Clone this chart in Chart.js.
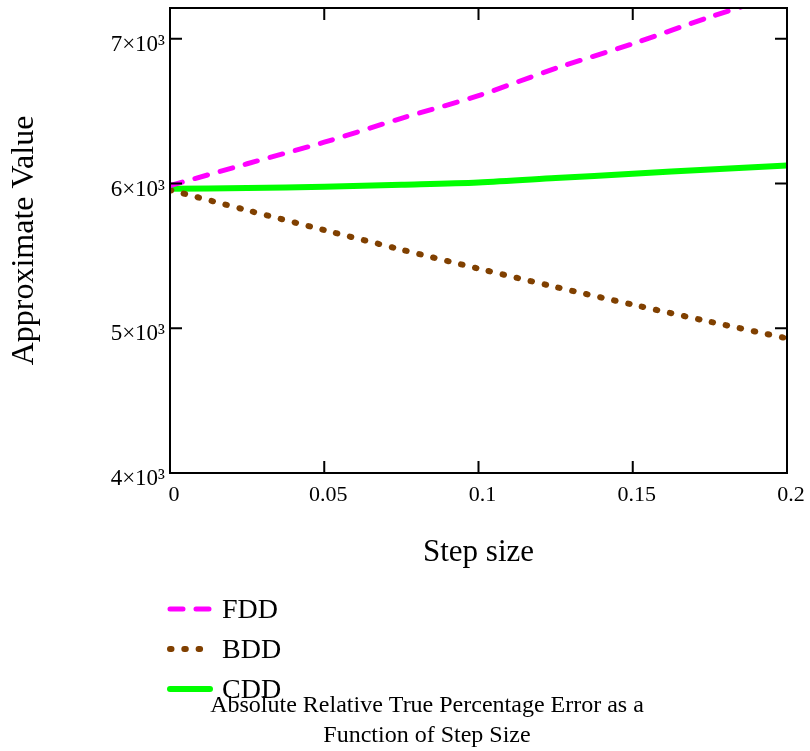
<!DOCTYPE html>
<html>
<head>
<meta charset="utf-8">
<script src="https://cdn.jsdelivr.net/npm/chart.js@4.4.0/dist/chart.umd.min.js"></script>
<style>
  html, body { margin: 0; padding: 0; background: #fff; }
</style>
</head>
<body>
<canvas id="chart" width="810" height="751"></canvas>
<script>
// step sizes and the three derivative estimates
const stepSizes = [0, 0.025, 0.05, 0.075, 0.1, 0.125, 0.15, 0.175, 0.2];
const fddValues = [5985, 6136, 6285, 6450, 6607, 6795, 6965, 7150, 7320];
const bddValues = [5955, 5815, 5678, 5543, 5412, 5285, 5163, 5045, 4930];
const cddValues = [5963, 5968, 5977, 5991, 6007, 6037, 6067, 6097, 6124];
const seriesNames = ['FDD', 'BDD', 'CDD'];

const xTicks = [0, 0.05, 0.1, 0.15, 0.2];
const yTicks = [4000, 5000, 6000, 7000];
const titleLines = ['Absolute Relative True Percentage Error as a', 'Function of Step Size'];

const serif = "'Liberation Serif', 'Times New Roman', serif";

function points(values) {
  return stepSizes.map((s, i) => ({ x: s, y: values[i] }));
}

// box frame with inward ticks, plus legend and caption underneath
const framePlugin = {
  id: 'framePlugin',
  afterDraw(chart) {
    const { ctx, chartArea: a, scales: { x, y } } = chart;
    ctx.save();
    ctx.strokeStyle = '#000';
    ctx.lineWidth = 2;
    ctx.strokeRect(a.left, a.top, a.right - a.left, a.bottom - a.top);

    ctx.beginPath();
    x.ticks.forEach(t => {
      if (t.value <= x.min || t.value >= x.max) return;
      const px = x.getPixelForValue(t.value);
      ctx.moveTo(px, a.bottom); ctx.lineTo(px, a.bottom - 12);
      ctx.moveTo(px, a.top); ctx.lineTo(px, a.top + 12);
    });
    y.ticks.forEach(t => {
      if (t.value <= y.min || t.value >= y.max) return;
      const py = y.getPixelForValue(t.value);
      ctx.moveTo(a.left, py); ctx.lineTo(a.left + 12, py);
      ctx.moveTo(a.right, py); ctx.lineTo(a.right - 12, py);
    });
    ctx.stroke();

    // legend
    ctx.font = '28px ' + serif;
    ctx.fillStyle = '#000';
    ctx.textAlign = 'left';
    ctx.textBaseline = 'alphabetic';
    chart.data.datasets.forEach((ds, i) => {
      const ly = 609 + i * 40;
      ctx.save();
      ctx.strokeStyle = ds.borderColor;
      ctx.lineWidth = ds.borderWidth;
      ctx.lineCap = 'round';
      ctx.setLineDash(ds.borderDash || []);
      ctx.beginPath();
      ctx.moveTo(170, ly);
      ctx.lineTo(210, ly);
      ctx.stroke();
      ctx.restore();
      ctx.fillText(ds.label, 222, ly + 9);
    });

    // caption
    ctx.font = '24px ' + serif;
    ctx.textAlign = 'center';
    titleLines.forEach((line, i) => ctx.fillText(line, 427, 712 + i * 30));
    ctx.restore();
  }
};

new Chart(document.getElementById('chart'), {
  type: 'line',
  data: {
    datasets: [
      {
        label: seriesNames[0],
        data: points(fddValues),
        borderColor: '#ff00ff',
        borderWidth: 5,
        borderDash: [13, 13],
        borderCapStyle: 'round'
      },
      {
        label: seriesNames[1],
        data: points(bddValues),
        borderColor: '#804000',
        borderWidth: 6,
        borderDash: [1.5, 12.8],
        borderCapStyle: 'round'
      },
      {
        label: seriesNames[2],
        data: points(cddValues),
        borderColor: '#00ff00',
        borderWidth: 6,
        borderCapStyle: 'butt'
      }
    ]
  },
  options: {
    responsive: false,
    animation: false,
    parsing: false,
    elements: {
      point: { radius: 0 },
      line: { tension: 0.3, fill: false }
    },
    datasets: { line: { clip: 0 } },
    layout: { padding: { left: 0, top: 8, right: 23, bottom: 180 } },
    plugins: {
      legend: { display: false },
      tooltip: { enabled: false }
    },
    scales: {
      x: {
        type: 'linear',
        min: 0,
        max: 0.2,
        grid: { display: false, drawTicks: false },
        border: { display: false },
        afterBuildTicks: s => { s.ticks = xTicks.map(v => ({ value: v })); },
        ticks: {
          padding: 9,
          labelOffset: 4,
          maxRotation: 0,
          autoSkip: false,
          color: '#000',
          font: { family: serif, size: 22 },
          callback: v => String(parseFloat(Number(v).toFixed(2)))
        },
        title: {
          display: true,
          text: 'Step size',
          color: '#000',
          font: { family: serif, size: 31, lineHeight: 1.2 },
          padding: { top: 0, bottom: 0 }
        },
        afterFit: s => { s.height = 98; s.paddingLeft = 0; s.paddingRight = 0; }
      },
      y: {
        type: 'linear',
        min: 4000,
        max: 7212,
        grid: { display: false, drawTicks: false },
        border: { display: false },
        afterBuildTicks: s => { s.ticks = yTicks.map(v => ({ value: v })); },
        ticks: {
          padding: 5,
          labelOffset: 6,
          autoSkip: false,
          color: '#000',
          font: { family: serif, size: 23 },
          callback: v => (v / 1000) + '×10³'
        },
        title: {
          display: true,
          text: 'Approximate Value',
          color: '#000',
          font: { family: serif, size: 32, lineHeight: 1.2 },
          padding: { top: 5, bottom: 0 }
        },
        afterFit: s => { s.width = 170; s.paddingTop = 0; s.paddingBottom = 0; }
      }
    }
  },
  plugins: [framePlugin]
});
</script>
</body>
</html>
